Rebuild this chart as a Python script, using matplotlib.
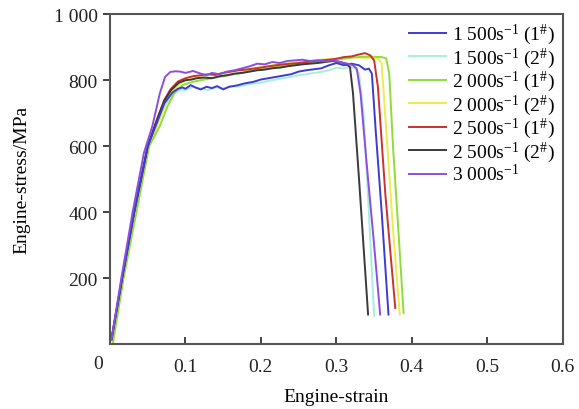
import matplotlib

matplotlib.use("Agg")
import matplotlib.pyplot as plt
import matplotlib.transforms as mtransforms

plt.rcParams["font.family"] = ["Liberation Serif", "DejaVu Serif"]
plt.rcParams["mathtext.fontset"] = "custom"
plt.rcParams["mathtext.rm"] = "Liberation Serif"
plt.rcParams["mathtext.it"] = "Liberation Serif:italic"

# strain / stress readings per specimen
strain_1500_1 = [0.002, 0.016, 0.032, 0.050, 0.062, 0.072, 0.083, 0.090, 0.096, 0.100, 0.107, 0.113, 0.120,
                 0.128, 0.135, 0.142, 0.150, 0.158, 0.168, 0.178, 0.190, 0.200, 0.210, 0.220, 0.230, 0.240,
                 0.250, 0.260, 0.270, 0.280, 0.290, 0.300, 0.310, 0.320, 0.330, 0.338, 0.343, 0.347, 0.352,
                 0.360, 0.369]
stress_1500_1 = [15, 200, 400, 600, 670, 730, 763, 774, 778, 774, 785, 778, 772,
                 780, 776, 782, 772, 780, 784, 790, 795, 802, 806, 810, 814, 818,
                 826, 830, 833, 836, 845, 852, 845, 850, 845, 832, 835, 820, 650,
                 400, 90]

strain_1500_2 = [0.002, 0.017, 0.034, 0.051, 0.063, 0.074, 0.085, 0.095, 0.100, 0.110, 0.120, 0.130, 0.140,
                 0.150, 0.160, 0.170, 0.180, 0.190, 0.200, 0.210, 0.220, 0.230, 0.240, 0.250, 0.260, 0.270,
                 0.280, 0.290, 0.300, 0.310, 0.318, 0.325, 0.330, 0.336, 0.343, 0.350]
stress_1500_2 = [10, 200, 400, 600, 670, 728, 760, 772, 770, 780, 775, 770, 778,
                 775, 782, 780, 786, 790, 792, 798, 802, 806, 810, 815, 818, 822,
                 825, 830, 838, 835, 840, 835, 820, 700, 400, 85]

strain_2000_1 = [0.004, 0.018, 0.035, 0.052, 0.066, 0.076, 0.086, 0.096, 0.105, 0.112, 0.120, 0.130, 0.140,
                 0.150, 0.160, 0.170, 0.180, 0.190, 0.200, 0.210, 0.220, 0.230, 0.240, 0.250, 0.260, 0.270,
                 0.280, 0.290, 0.300, 0.310, 0.320, 0.330, 0.340, 0.350, 0.360, 0.366, 0.370, 0.375, 0.382,
                 0.389]
stress_2000_1 = [5, 200, 400, 600, 661, 720, 763, 785, 792, 796, 800, 804, 808,
                 812, 816, 820, 825, 830, 832, 836, 840, 843, 846, 850, 852, 855,
                 858, 860, 862, 865, 868, 870, 871, 871, 870, 866, 820, 600, 350,
                 95]

strain_2000_2 = [0.003, 0.017, 0.033, 0.051, 0.064, 0.074, 0.083, 0.093, 0.103, 0.110, 0.117, 0.125, 0.135,
                 0.145, 0.155, 0.165, 0.175, 0.185, 0.195, 0.205, 0.215, 0.225, 0.235, 0.245, 0.255, 0.265,
                 0.275, 0.285, 0.295, 0.305, 0.315, 0.325, 0.335, 0.345, 0.355, 0.360, 0.366, 0.375, 0.384]
stress_2000_2 = [10, 200, 400, 600, 670, 732, 768, 790, 800, 805, 810, 814, 816,
                 820, 824, 828, 831, 834, 838, 842, 845, 848, 851, 853, 856, 859,
                 861, 863, 865, 866, 868, 870, 868, 868, 866, 850, 650, 350, 90]

strain_2500_1 = [0.002, 0.016, 0.032, 0.050, 0.062, 0.072, 0.080, 0.090, 0.100, 0.110, 0.120, 0.130, 0.140,
                 0.150, 0.160, 0.170, 0.180, 0.190, 0.200, 0.210, 0.220, 0.230, 0.240, 0.250, 0.260, 0.270,
                 0.280, 0.290, 0.300, 0.310, 0.320, 0.330, 0.338, 0.345, 0.350, 0.355, 0.365, 0.378]
stress_2500_1 = [15, 200, 400, 600, 680, 740, 772, 796, 806, 812, 815, 818, 816,
                 822, 826, 830, 832, 835, 838, 842, 845, 848, 850, 852, 855,
                 858, 860, 862, 865, 870, 872, 878, 882, 875, 860, 780, 450, 110]

strain_2500_2 = [0.002, 0.016, 0.032, 0.050, 0.062, 0.072, 0.081, 0.091, 0.100, 0.108, 0.115, 0.125, 0.135,
                 0.145, 0.155, 0.165, 0.175, 0.185, 0.195, 0.205, 0.215, 0.225, 0.235, 0.245, 0.255, 0.265,
                 0.275, 0.285, 0.295, 0.305, 0.312, 0.318, 0.322, 0.330, 0.342]
stress_2500_2 = [15, 200, 400, 600, 678, 738, 770, 792, 800, 802, 806, 808, 806,
                 812, 815, 820, 822, 826, 830, 832, 836, 838, 842, 845, 848, 850,
                 852, 855, 858, 855, 850, 840, 760, 500, 90]

strain_3000 = [0.002, 0.015, 0.030, 0.045, 0.056, 0.066, 0.073, 0.080, 0.087, 0.093, 0.100, 0.110, 0.120,
               0.128, 0.135, 0.145, 0.155, 0.165, 0.175, 0.185, 0.195, 0.205, 0.215, 0.225, 0.235, 0.245,
               0.255, 0.265, 0.275, 0.285, 0.295, 0.305, 0.315, 0.322, 0.327, 0.332, 0.340, 0.350, 0.358]
stress_3000 = [15, 200, 400, 580, 660, 760, 810, 825, 827, 826, 822, 828, 820,
               815, 822, 818, 826, 830, 836, 842, 850, 848, 855, 852, 858, 860,
               862, 858, 860, 857, 860, 855, 850, 845, 835, 760, 550, 300, 90]

labels = [
    r"1 500s$^{-1}$ (1$^{\#}$)",
    r"1 500s$^{-1}$ (2$^{\#}$)",
    r"2 000s$^{-1}$ (1$^{\#}$)",
    r"2 000s$^{-1}$ (2$^{\#}$)",
    r"2 500s$^{-1}$ (1$^{\#}$)",
    r"2 500s$^{-1}$ (2$^{\#}$)",
    r"3 000s$^{-1}$",
]
series = [
    (strain_1500_1, stress_1500_1),
    (strain_1500_2, stress_1500_2),
    (strain_2000_1, stress_2000_1),
    (strain_2000_2, stress_2000_2),
    (strain_2500_1, stress_2500_1),
    (strain_2500_2, stress_2500_2),
    (strain_3000, stress_3000),
]
colors = ["#3c3cd2", "#a8eedc", "#8fdc3a", "#ecec4a", "#cc3030", "#3a3a3a", "#8c4ee0"]

x_ticks = [0.1, 0.2, 0.3, 0.4, 0.5, 0.6]
x_tick_labels = ["0.1", "0.2", "0.3", "0.4", "0.5", "0.6"]
y_ticks = [200, 400, 600, 800, 1000]
y_tick_labels = ["200", "400", "600", "800", "1 000"]

fs = 14

fig = plt.figure(figsize=(5.79, 4.10), dpi=100, facecolor="white")
ax = fig.add_axes([0.19, 0.158, 0.782, 0.805])

# lighter lines first so the darker ones stay on top
draw_order = [1, 3, 2, 4, 5, 0, 6]
handles = {}
for idx in draw_order:
    xs, ys = series[idx]
    (line,) = ax.plot(xs, ys, color=colors[idx], linewidth=1.4, label=labels[idx])
    handles[idx] = line

ax.set_xlim(0, 0.6)
ax.set_ylim(0, 1000)
ax.set_xticks(x_ticks)
ax.set_xticklabels(x_tick_labels)
ax.set_yticks(y_ticks)
ax.set_yticklabels(y_tick_labels)
ax.tick_params(axis="x", direction="in", length=5, width=1.2, labelsize=fs, pad=10, colors="#222222")
ax.tick_params(axis="y", direction="out", length=5, width=1.2, labelsize=fs, pad=4, colors="#222222")
for spine in ax.spines.values():
    spine.set_color("#555555")
    spine.set_linewidth(1.5)

# shared origin label sits at the lower left corner
offset = mtransforms.ScaledTranslation(-12 / 100, -19 / 100, fig.dpi_scale_trans)
ax.text(0, 0, "0", transform=ax.transData + offset, ha="center", va="center",
        fontsize=fs, color="#222222")

ax.set_xlabel("Engine-strain", fontsize=fs, labelpad=9)
ax.set_ylabel("Engine-stress/MPa", fontsize=fs, labelpad=17)

ax.legend([handles[i] for i in range(7)], labels, loc="upper right", frameon=False,
          fontsize=fs, handlelength=1.9, handletextpad=0.3, labelspacing=-0.04,
          borderaxespad=0.1, borderpad=0.3, bbox_to_anchor=(1.0, 1.0))

fig.savefig("out.png", dpi=100, facecolor="white")
